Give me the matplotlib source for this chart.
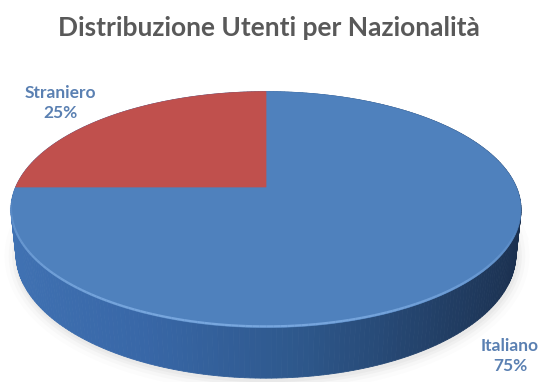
import numpy as np
import matplotlib.pyplot as plt
from matplotlib.colors import LinearSegmentedColormap
from matplotlib.patches import Polygon

# Chart data
categories = ['Italiano', 'Straniero']
shares = [75, 25]
colors = ['#4f81bd', '#c0504d']
title = 'Distribuzione Utenti per Nazionalità'

W, H = 539, 382

# 3D view of the disc (unit radius, thickness THICK)
CX, CY = 266, 187
ELEV = np.radians(27)
DIST = 4.65
FOCAL = 1164
THICK = 0.2


def project(theta, z=0.0):
    x = np.cos(theta)
    y = np.sin(theta)
    w = DIST + y * np.cos(ELEV) - z * np.sin(ELEV)
    v = y * np.sin(ELEV) + z * np.cos(ELEV)
    return CX + FOCAL * x / w, CY - FOCAL * v / w


side_cmap = LinearSegmentedColormap.from_list(
    'side', [(0.0, '#4173b4'), (0.3, '#3867a7'), (0.55, '#2e588c'),
             (0.8, '#223f66'), (1.0, '#1a2e4c')])

fig = plt.figure(figsize=(W / 100, H / 100), dpi=100)
ax = fig.add_axes([0, 0, 1, 1])
ax.set_xlim(0, W)
ax.set_ylim(H, 0)
ax.axis('off')

# soft shadow under the disc
t_all = np.linspace(0, 2 * np.pi, 361)
bx, by = project(t_all, -THICK)
for lw, a in [(18, 0.025), (12, 0.035), (7, 0.05), (3, 0.06)]:
    ax.plot(bx + 1, by + 2, color='#808080', lw=lw, alpha=a, solid_joinstyle='round', zorder=1)

# side wall, drawn back to front
n = 360
edges = np.linspace(0, 2 * np.pi, n + 1)
mids = (edges[:-1] + edges[1:]) / 2
order = np.argsort(-np.sin(mids))
for i in order:
    t0, t1 = edges[i], edges[i + 1]
    x0, y0 = project(t0, 0)
    x1, y1 = project(t1, 0)
    x2, y2 = project(t1, -THICK)
    x3, y3 = project(t0, -THICK)
    shade = side_cmap((np.cos(mids[i]) + 1) / 2)
    ax.add_patch(Polygon([(x0, y0), (x1, y1), (x2, y2), (x3, y3)], closed=True,
                         facecolor=shade, edgecolor=shade, lw=0.6, zorder=2))

# top face wedges, clockwise from 12 o'clock
start = np.pi / 2
for cat, val, col in zip(categories, shares, colors):
    sweep = 2 * np.pi * val / sum(shares)
    tt = np.linspace(start, start - sweep, 200)
    ex, ey = project(tt, 0)
    pts = np.column_stack([np.r_[CX, ex], np.r_[CY, ey]])
    ax.add_patch(Polygon(pts, closed=True, facecolor=col, edgecolor=col, lw=0.5, zorder=3))
    start -= sweep

# light bevel along the front rim
tr = np.linspace(np.radians(186), np.radians(340), 120)
rx, ry = project(tr, 0)
for k in range(len(tr) - 1):
    a = 0.75 * np.sin(np.pi * (k / (len(tr) - 2))) ** 0.6
    ax.plot(rx[k:k + 2], ry[k:k + 2] - 1.2, color='#86b4ea', lw=1.6, alpha=a,
            solid_capstyle='butt', zorder=4)

ax.text(W / 2 - 1, 28, title, ha='center', va='center', fontsize=19,
        fontweight='bold', color='#595959', family='Lato')

lab_font = dict(fontsize=12.5, fontweight='bold', color='#5a80b2', family='Lato',
                ha='center', va='center', linespacing=1.3)
ax.text(60, 103, f'{categories[1]}\n{shares[1]}%', **lab_font)
ax.text(510, 356, f'{categories[0]}\n{shares[0]}%', **lab_font)

fig.savefig('out.png', dpi=100, facecolor='white')
